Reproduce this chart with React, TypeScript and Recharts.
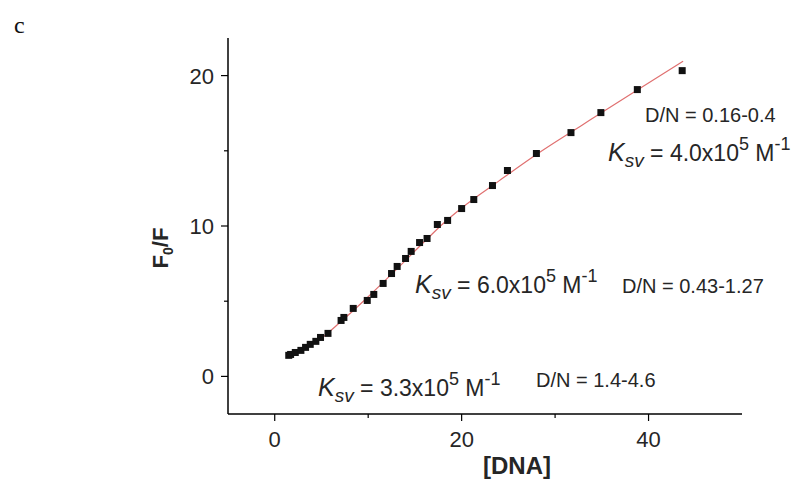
import { ComposedChart, Line, Scatter, XAxis, YAxis } from 'recharts';

// [DNA] values and the measured F0/F ratios
const dnaConc = [
  1.5, 1.7, 2.2, 2.8, 3.3, 3.8, 4.4, 4.9, 5.7, 7.1, 7.4, 8.4, 9.9, 10.6, 11.6,
  12.5, 13.1, 14.0, 14.6, 15.5, 16.3, 17.4, 18.5, 20.0, 21.3, 23.3, 24.9, 28.0,
  31.7, 34.9, 38.8, 43.6,
];
const f0f = [
  1.4, 1.46, 1.59, 1.73, 1.93, 2.13, 2.33, 2.59, 2.86, 3.72, 3.92, 4.52, 5.05,
  5.45, 6.18, 6.84, 7.31, 7.84, 8.31, 8.9, 9.17, 10.1, 10.37, 11.16, 11.76,
  12.69, 13.69, 14.82, 16.21, 17.54, 19.07, 20.33,
];

// red fitted curve
const fitX = [1.4, 3, 5, 7, 10, 13, 16, 18, 20, 24, 28, 33, 38.8, 43.7];
const fitY = [1.3, 1.85, 2.55, 3.6, 5.3, 7.1, 8.95, 10.15, 11.2, 13.0, 14.75, 16.75, 19.05, 20.95];

const xTicks = [0, 10, 20, 30, 40];
const yTicks = [0, 5, 10, 15, 20];

const points = dnaConc.map((x, i) => ({ x, y: f0f[i] }));
const fit = fitX.map((x, i) => ({ x, y: fitY[i] }));

const FONT = 'Arial, "Liberation Sans", sans-serif';
const INK = '#262626';

const XTick = (props: any) => {
  const { x, y, payload } = props;
  const axisY = y - 8;
  const major = payload.value % 20 === 0;
  return (
    <g>
      <line x1={x} x2={x} y1={axisY} y2={axisY + (major ? 7 : 4)} stroke="#000" strokeWidth={1.2} />
      {major && (
        <text x={x} y={axisY + 33} textAnchor="middle" fontSize={22} fontFamily={FONT} fill={INK}>
          {payload.value}
        </text>
      )}
    </g>
  );
};

const YTick = (props: any) => {
  const { x, y, payload } = props;
  const axisX = x + 8;
  const major = payload.value % 10 === 0;
  return (
    <g>
      <line x1={axisX} x2={axisX - (major ? 7 : 4)} y1={y} y2={y} stroke="#000" strokeWidth={1.2} />
      {major && (
        <text x={axisX - 14} y={y} dy="0.36em" textAnchor="end" fontSize={22} fontFamily={FONT} fill={INK}>
          {payload.value}
        </text>
      )}
    </g>
  );
};

const Square = (props: any) => {
  const { cx, cy } = props;
  return <rect x={cx - 3.5} y={cy - 3.5} width={7} height={7} fill="#111" />;
};

const Ksv = ({ x, y, value }: { x: number; y: number; value: string }) => (
  <text x={x} y={y} fontFamily={FONT} fill={INK}>
    <tspan fontStyle="italic" fontSize={25}>K</tspan>
    <tspan fontStyle="italic" fontSize={19} dy={6}>sv</tspan>
    <tspan fontSize={23} dy={-6}>{` = ${value}x10`}</tspan>
    <tspan fontSize={18} dy={-11}>5</tspan>
    <tspan fontSize={23} dy={11}> M</tspan>
    <tspan fontSize={18} dy={-11}>-1</tspan>
  </text>
);

export default function App() {
  return (
    <div style={{ position: 'absolute', left: 0, top: 0, width: 795, height: 495, background: '#fff' }}>
      <ComposedChart width={795} height={495} margin={{ top: 38, right: 53, bottom: 41, left: 158 }}>
        <XAxis
          type="number"
          dataKey="x"
          domain={[-5, 50]}
          ticks={xTicks}
          height={40}
          tickLine={false}
          tick={<XTick />}
          axisLine={{ stroke: '#000', strokeWidth: 1.5 }}
          allowDataOverflow
        />
        <YAxis
          type="number"
          dataKey="y"
          domain={[-2.5, 22.5]}
          ticks={yTicks}
          width={70}
          tickLine={false}
          tick={<YTick />}
          axisLine={{ stroke: '#000', strokeWidth: 1.5 }}
          allowDataOverflow
        />
        <Line
          data={fit}
          dataKey="y"
          type="monotone"
          stroke="#e07070"
          strokeWidth={1.2}
          dot={false}
          isAnimationActive={false}
        />
        <Scatter data={points} dataKey="y" shape={<Square />} isAnimationActive={false} />
      </ComposedChart>
      <svg width={795} height={495} style={{ position: 'absolute', left: 0, top: 0, pointerEvents: 'none' }}>
        <text x={14} y={33} fontSize={24} fontFamily='"Liberation Serif", "DejaVu Serif", serif' fill="#111">
          c
        </text>
        <text
          transform="translate(168, 248) rotate(-90)"
          textAnchor="middle"
          fontSize={22}
          fontWeight="bold"
          fontFamily={FONT}
          fill={INK}
        >
          F<tspan fontSize={14} dy={5}>0</tspan>
          <tspan dy={-5}>/F</tspan>
        </text>
        <text x={517} y={474} textAnchor="middle" fontSize={24} fontWeight="bold" fontFamily={FONT} fill={INK}>
          [DNA]
        </text>
        <text x={645} y={122} fontSize={20} fontFamily={FONT} fill={INK}>D/N = 0.16-0.4</text>
        <Ksv x={608} y={161} value="4.0" />
        <Ksv x={415} y={293} value="6.0" />
        <text x={622} y={293} fontSize={20} fontFamily={FONT} fill={INK}>D/N = 0.43-1.27</text>
        <Ksv x={318} y={396} value="3.3" />
        <text x={536} y={387} fontSize={20} fontFamily={FONT} fill={INK}>D/N = 1.4-4.6</text>
      </svg>
    </div>
  );
}
